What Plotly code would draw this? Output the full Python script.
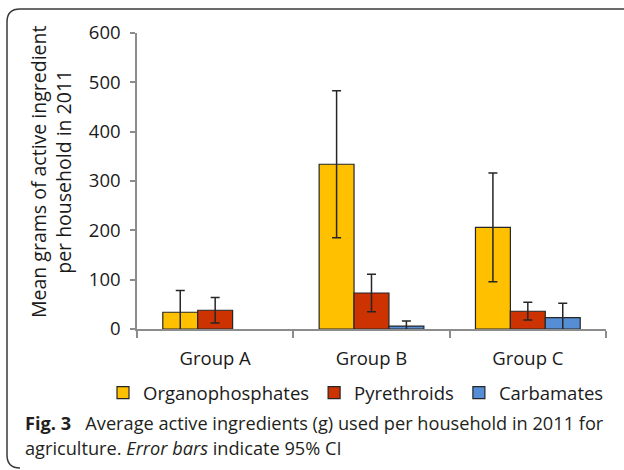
import plotly.graph_objects as go

categories = ["Group A", "Group B", "Group C"]
organophosphates = [34, 334, 206]
organophosphates_err = [44, 149, 110]
pyrethroids = [38, 73, 36]
pyrethroids_err = [26, 38, 18]
carbamates = [None, 6, 23]
carbamates_err = [None, 10, 29]
y_ticks = [0, 100, 200, 300, 400, 500, 600]

series = [
    ("Organophosphates", organophosphates, organophosphates_err, "#FFC000"),
    ("Pyrethroids", pyrethroids, pyrethroids_err, "#CC3300"),
    ("Carbamates", carbamates, carbamates_err, "#558ED5"),
]

FONT = "Open Sans"
TXT = "#1a1a1a"
fig = go.Figure()
for name, vals, errs, col in series:
    fig.add_trace(go.Bar(
        x=categories, y=vals, name=name,
        marker=dict(color=col, line=dict(color="#262626", width=1.2)),
        error_y=dict(type="data", array=errs, visible=True,
                     color="#262626", thickness=1.5, width=4.5),
    ))

W, H = 624, 470
L, R, T, B = 137, 18, 33, 141
pw, ph = W - L - R, H - T - B


def px(x):
    return (x - L) / pw


def py(y):
    return (H - B - y) / ph


fig.update_layout(
    width=W, height=H,
    margin=dict(l=L, r=R, t=T, b=B, autoexpand=False),
    paper_bgcolor="white", plot_bgcolor="white",
    barmode="group", bargap=0.33, bargroupgap=0,
    font=dict(family=FONT, size=18.5, color=TXT),
    showlegend=True,
    legend=dict(orientation="h", x=px(103), xanchor="left",
                y=py(393), yanchor="middle",
                font=dict(size=18.5, color=TXT),
                itemwidth=30, traceorder="normal",
                bgcolor="rgba(0,0,0,0)"),
    xaxis=dict(showline=True, linecolor="#8c8c8c", linewidth=1.5,
               ticks="outside", tickson="boundaries", ticklen=7,
               tickcolor="#8c8c8c", tickwidth=1.5,
               ticklabelstandoff=12, fixedrange=True,
               tickfont=dict(size=18.5, color=TXT)),
    yaxis=dict(range=[0, 600], tickvals=y_ticks, showline=True,
               linecolor="#8c8c8c", linewidth=1.5, ticks="outside",
               ticklen=5, tickcolor="#8c8c8c", tickwidth=1.5,
               showgrid=False, zeroline=False, ticklabelstandoff=6,
               tickfont=dict(size=18.5, color=TXT)),
)

# y-axis title
fig.add_annotation(
    xref="paper", yref="paper", x=px(51), y=py(172),
    text="Mean grams of active ingredient<br>per household in 2011",
    textangle=-90, showarrow=False, xanchor="center", yanchor="middle",
    font=dict(size=19.5, color=TXT, family=FONT),
)

# caption
fig.add_annotation(
    xref="paper", yref="paper", x=px(23), y=py(423),
    text="<b>Fig. 3</b>\u00a0\u00a0 Average active ingredients (g) used per household in 2011 for",
    showarrow=False, xanchor="left", yanchor="middle",
    font=dict(size=18.2, color="#231f20", family=FONT),
)
fig.add_annotation(
    xref="paper", yref="paper", x=px(23), y=py(448),
    text="agriculture. <i>Error bars</i> indicate 95% CI",
    showarrow=False, xanchor="left", yanchor="middle",
    font=dict(size=18.2, color="#231f20", family=FONT),
)

# rounded frame (top and left edges)
fig.add_shape(
    type="path", xref="paper", yref="paper",
    path=(f"M {px(624)},{py(9)} L {px(20)},{py(9)} "
          f"Q {px(7)},{py(9)} {px(7)},{py(22)} "
          f"L {px(7)},{py(455)} Q {px(7)},{py(468)} {px(20)},{py(468)}"),
    line=dict(color="#3a3a3a", width=1.5),
)

fig.write_html("out.html",
               config={"displayModeBar": False},
               post_script="document.body.style.margin='0';document.body.style.padding='0';")
